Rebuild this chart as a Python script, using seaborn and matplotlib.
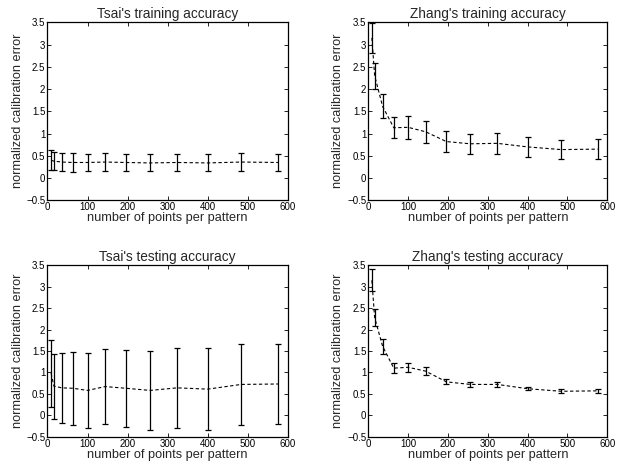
import matplotlib
matplotlib.use("Agg")
import matplotlib.pyplot as plt
import matplotlib.ticker as mticker
import seaborn as sns
import pandas as pd

sns.set_style("ticks")
plt.rcParams['font.family'] = ['Liberation Sans', 'DejaVu Sans']
plt.rcParams['axes.unicode_minus'] = True

points = [9, 16, 36, 64, 100, 144, 196, 256, 324, 400, 484, 576]

tsai_train_mean = [0.40, 0.38, 0.36, 0.35, 0.35, 0.36, 0.35, 0.34, 0.35, 0.34, 0.36, 0.35]
tsai_train_err = [0.23, 0.21, 0.21, 0.21, 0.20, 0.21, 0.20, 0.19, 0.20, 0.19, 0.21, 0.20]

zhang_train_mean = [3.15, 2.30, 1.61, 1.13, 1.14, 1.04, 0.82, 0.77, 0.78, 0.70, 0.64, 0.65]
zhang_train_err = [0.33, 0.29, 0.27, 0.24, 0.26, 0.25, 0.23, 0.23, 0.24, 0.22, 0.22, 0.23]

tsai_test_mean = [0.98, 0.68, 0.64, 0.63, 0.58, 0.67, 0.63, 0.58, 0.64, 0.61, 0.72, 0.73]
tsai_test_err = [0.78, 0.76, 0.82, 0.85, 0.87, 0.87, 0.90, 0.93, 0.93, 0.95, 0.94, 0.94]

zhang_test_mean = [3.15, 2.28, 1.61, 1.10, 1.12, 1.03, 0.78, 0.72, 0.72, 0.62, 0.56, 0.57]
zhang_test_err = [0.26, 0.20, 0.17, 0.11, 0.11, 0.10, 0.06, 0.06, 0.05, 0.04, 0.05, 0.04]

titles = ["Tsai's training accuracy", "Zhang's training accuracy",
          "Tsai's testing accuracy", "Zhang's testing accuracy"]
xlabel = "number of points per pattern"
ylabel = "normalized calibration error"
xticks = [0, 100, 200, 300, 400, 500, 600]
yticks = [-0.5, 0, 0.5, 1, 1.5, 2, 2.5, 3, 3.5]

series = [(tsai_train_mean, tsai_train_err), (zhang_train_mean, zhang_train_err),
          (tsai_test_mean, tsai_test_err), (zhang_test_mean, zhang_test_err)]

fig = plt.figure(figsize=(6.29, 4.72), dpi=100)
positions = [
    [0.0755, 0.5756, 0.3820, 0.3772],
    [0.5855, 0.5756, 0.3800, 0.3772],
    [0.0755, 0.0748, 0.3820, 0.3631],
    [0.5855, 0.0748, 0.3800, 0.3631],
]

def fmt(v, pos):
    s = "%g" % v
    return s.replace("-", "\u2212")

for pos, title, (m, e) in zip(positions, titles, series):
    ax = fig.add_axes(pos)
    df = pd.DataFrame({"x": points, "y": m})
    sns.lineplot(data=df, x="x", y="y", ax=ax, color="black", linewidth=0.8,
                 linestyle=(0, (3, 2.2)), errorbar=None)
    ax.errorbar(points, m, yerr=e, fmt="none", ecolor="black", elinewidth=0.9,
                capsize=2.2, capthick=0.9)
    ax.set_xlim(0, 600)
    ax.set_ylim(-0.5, 3.5)
    ax.set_xticks(xticks)
    ax.set_yticks(yticks)
    ax.xaxis.set_major_formatter(mticker.FuncFormatter(fmt))
    ax.yaxis.set_major_formatter(mticker.FuncFormatter(fmt))
    ax.tick_params(direction="in", top=True, right=True, length=3, width=0.6,
                   labelsize=7, pad=1.5, colors="black")
    for sp in ax.spines.values():
        sp.set_visible(True)
        sp.set_linewidth(0.9)
        sp.set_color("black")
    ax.set_title(title, fontsize=9.8, pad=3)
    ax.set_xlabel(xlabel, fontsize=9.2, labelpad=0)
    ax.set_ylabel(ylabel, fontsize=9.2, labelpad=2)

fig.savefig("out.png", dpi=100)
